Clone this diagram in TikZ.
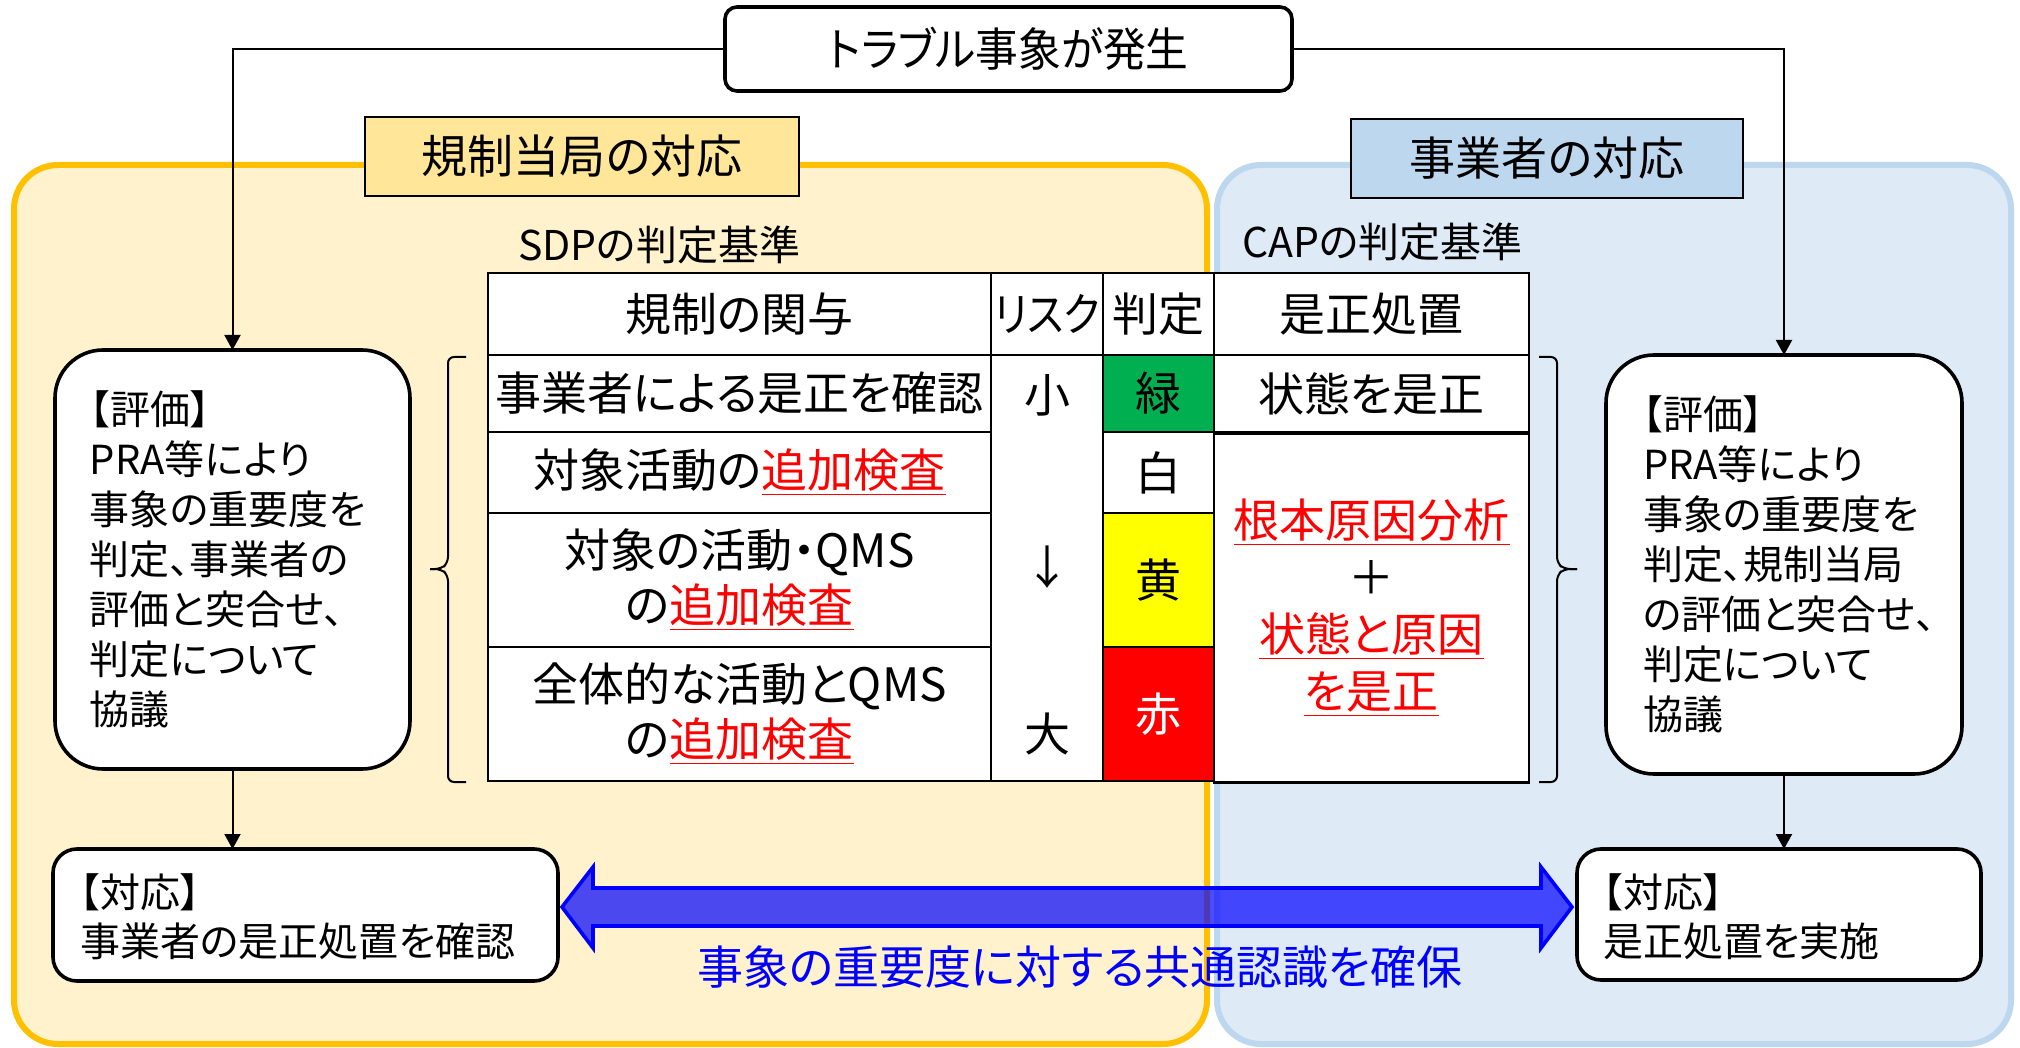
\documentclass[tikz,border=0pt]{standalone}
\usepackage{fontspec}
\setmainfont{Noto Sans CJK JP}[RawFeature=+palt]
\usepackage{graphicx}
\usetikzlibrary{arrows.meta,calc}
\definecolor{orLine}{HTML}{FFC000}
\definecolor{orFill}{HTML}{FFF2CC}
\definecolor{blLine}{HTML}{BDD7EE}
\definecolor{blFill}{HTML}{DEEBF7}
\definecolor{labY}{HTML}{FFE699}
\definecolor{labB}{HTML}{BDD7EE}
\definecolor{cGreen}{HTML}{00B050}
\definecolor{cYellow}{HTML}{FFFF00}
\definecolor{cRed}{HTML}{FF0000}
\definecolor{cBlue}{HTML}{0000FF}
\newcommand{\fTitle}{\fontsize{23pt}{28pt}\selectfont}
\newcommand{\fLab}{\fontsize{23pt}{28pt}\selectfont}
\newcommand{\fSub}{\fontsize{20.5pt}{26pt}\selectfont}
\newcommand{\fTab}{\fontsize{23pt}{27.5pt}\selectfont}
\newcommand{\fCol}{\fontsize{23pt}{28.5pt}\selectfont}
\newcommand{\fEval}{\fontsize{20pt}{25pt}\selectfont}
\newcommand{\fResp}{\fontsize{20pt}{24.5pt}\selectfont}
\newcommand{\redul}[1]{\textcolor{cRed}{\underline{#1}}}
\begin{document}
\begin{tikzpicture}[x=0.5pt,y=-0.5pt,
  every node/.style={inner sep=0pt, outer sep=0pt},
  region/.style={line width=3pt, rounded corners=22pt},
  thickbox/.style={draw=black, line width=1.8pt, fill=white},
  labelbox/.style={draw=black, line width=1pt},
  cell/.style={draw=black, line width=1.3pt, fill=white, align=center, font=\fTab},
  conn/.style={line width=1pt, -{Triangle[length=7.5pt,width=8pt]}},
  brcline/.style={line width=1pt, rounded corners=3pt},
  bigarrow/.style={draw=cBlue, line width=1.8pt, fill=cBlue, fill opacity=0.7, line join=miter}
]
\useasboundingbox (0,0) rectangle (2020,1048);
\fill[white] (0,0) rectangle (2020,1048);

% regions
\draw[region, draw=orLine, fill=orFill] (14,165) rectangle (1207,1044);
\draw[region, draw=blLine, fill=blFill] (1217,165) rectangle (2011,1044);

% section labels
\node[labelbox, fill=labY, minimum width=217pt, minimum height=39.5pt, font=\fLab] (reglab) at (582,156.5) {規制当局の対応};
\node[labelbox, fill=labB, minimum width=196pt, minimum height=39.5pt, font=\fLab] (oplab) at (1547,158.5) {事業者の対応};

% title
\node[thickbox, rounded corners=6pt, minimum width=283.5pt, minimum height=42pt, font=\fTitle] (top) at (1008.5,49) {\scalebox{0.93}[1]{トラブル事象が発生}};

\node[font=\fSub, anchor=west] (sdp) at (518,245) {SDPの判定基準};
\node[font=\fSub, anchor=west] (cap) at (1242,242) {CAPの判定基準};

% table
\node[cell, minimum width=251.5pt, minimum height=41pt] (h1) at (739.5,314) {規制の関与};
\node[cell, minimum width=56pt, minimum height=41pt] (h2) at (1047,314) {\scalebox{0.88}[1]{リスク}};
\node[cell, minimum width=55.5pt, minimum height=41pt] (h3) at (1158.5,314) {判定};
\node[cell, minimum width=157.5pt, minimum height=41pt] (h4) at (1371.5,314) {是正処置};
\node[cell, minimum width=251.5pt, minimum height=38.5pt] (r1a) at (739.5,393.5) {事業者による是正を確認};
\node[cell, minimum width=251.5pt, minimum height=40.5pt] (r2a) at (739.5,472.5) {対象活動の\redul{追加検査}};
\node[cell, minimum width=251.5pt, minimum height=67pt] (r3a) at (739.5,580) {対象の活動・QMS\\の\redul{追加検査}};
\node[cell, minimum width=251.5pt, minimum height=67pt] (r4a) at (739.5,714) {全体的な活動とQMS\\の\redul{追加検査}};
\node[cell, minimum width=56pt, minimum height=213pt] (risk) at (1047,568) {};
\node[cell, fill=cGreen, minimum width=55.5pt, minimum height=38.5pt] (r1c) at (1158.5,393.5) {緑};
\node[cell, minimum width=55.5pt, minimum height=40.5pt] (r2c) at (1158.5,472.5) {白};
\node[cell, fill=cYellow, minimum width=55.5pt, minimum height=67pt] (r3c) at (1158.5,580) {黄};
\node[cell, fill=cRed, text=white, minimum width=55.5pt, minimum height=67pt] (r4c) at (1158.5,714) {赤};
\node[cell, minimum width=157.5pt, minimum height=38.5pt] (r1d) at (1371.5,393.5) {状態を是正};
\node[cell, font=\fCol, minimum width=157.5pt, minimum height=174.5pt] (r2d) at (1371.5,608) {\redul{根本原因分析}\\＋\\\redul{状態と原因}\\\redul{を是正}};

\node[font=\fTab] (small) at (1047,395) {小};
\node[font=\fTab] (down) at (1047,567) {↓};
\node[font=\fTab] (big) at (1047,734) {大};

% braces
\draw[brcline] (466,357) -- (448,357) -- (448,563) -- (441,569) -- (430,569);
\draw[brcline] (430,569) -- (441,569) -- (448,575) -- (448,782) -- (466,782);
\draw[brcline] (1539,357) -- (1557,357) -- (1557,563) -- (1564,569) -- (1577,569);
\draw[brcline] (1577,569) -- (1564,569) -- (1557,575) -- (1557,782) -- (1539,782);

% evaluation boxes
\node[thickbox, rounded corners=24pt, minimum width=177.5pt, minimum height=209.5pt] (leval) at (232.5,559.5) {};
\node[anchor=west, align=left, font=\fEval] (levalt) at ($(leval.west)+(35,0)$) {【評価】\\PRA等により\\事象の重要度を\\判定、事業者の\\評価と突合せ、\\判定について\\協議};
\node[thickbox, rounded corners=24pt, minimum width=178pt, minimum height=209.5pt] (reval) at (1784,564.5) {};
\node[anchor=west, align=left, font=\fEval] (revalt) at ($(reval.west)+(37,0)$) {【評価】\\PRA等により\\事象の重要度を\\判定、規制当局\\の評価と突合せ、\\判定について\\協議};

% response boxes
\node[thickbox, rounded corners=12pt, minimum width=252.5pt, minimum height=66pt] (lresp) at (305.5,915) {};
\node[anchor=west, align=left, font=\fResp] (lrespt) at ($(lresp.west)+(27,2)$) {【対応】\\事業者の是正処置を確認};
\node[thickbox, rounded corners=12pt, minimum width=202pt, minimum height=65.5pt] (rresp) at (1779,914.5) {};
\node[anchor=west, align=left, font=\fResp] (rrespt) at ($(rresp.west)+(26,2)$) {【対応】\\是正処置を実施};

% connectors
\draw[conn] (top.west) -| (leval.north);
\draw[conn] (top.east) -| (reval.north);
\draw[conn] (leval.south) -- (leval.south |- lresp.north);
\draw[conn] (reval.south) -- (reval.south |- rresp.north);

% double block arrow
\coordinate (aL) at (562,907);
\coordinate (aR) at (1572,907);
\draw[bigarrow] (aL) -- ++(31,-40) -- ++(0,21) -- ($(aR)+(-31,-19)$) -- ++(0,-21) -- (aR) -- ++(-31,41) -- ++(0,-22) -- ($(aL)+(31,19)$) -- ++(0,22) -- cycle;

\node[font=\fLab, text=cBlue] (common) at (1080,967) {事象の重要度に対する共通認識を確保};
\end{tikzpicture}
\end{document}
